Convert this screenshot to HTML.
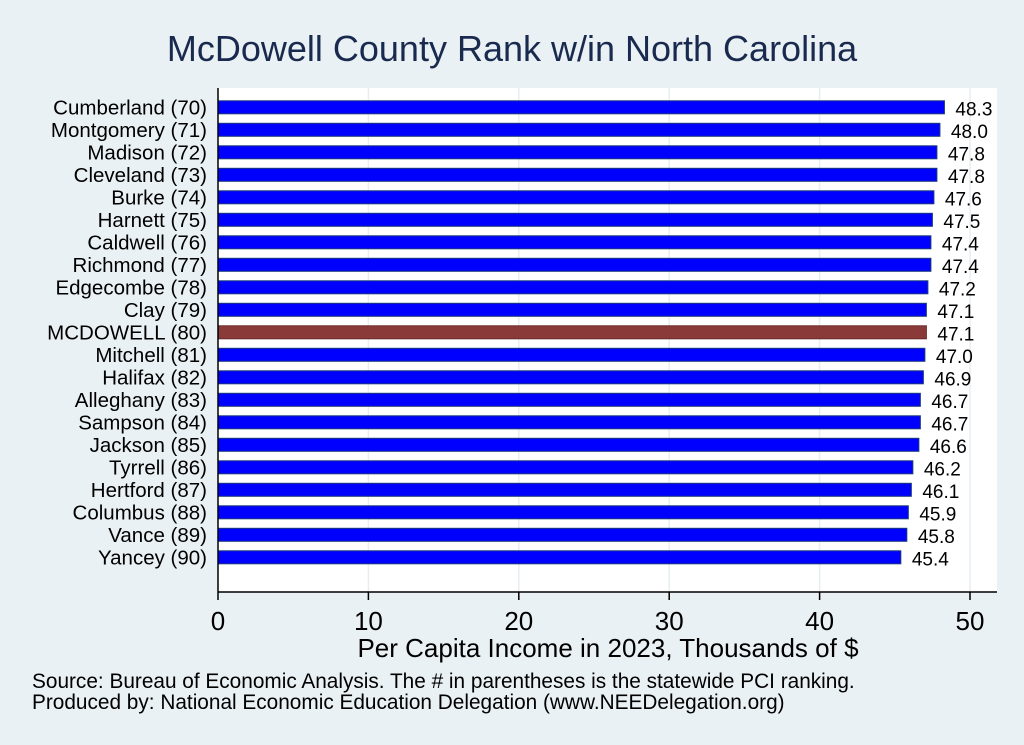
<!DOCTYPE html>
<html><head><meta charset="utf-8"><style>
body{margin:0;background:#eaf1f4;}
svg{display:block;font-family:"Liberation Sans",Arial,sans-serif;}
</style></head><body>
<svg id="chart" width="1024" height="745">
<rect x="0" y="0" width="1024" height="745" fill="#eaf1f4"/>
<text x="512" y="61" text-anchor="middle" font-size="36" fill="#1a2a4f">McDowell County Rank w/in North Carolina</text>
<rect x="218" y="88" width="779" height="504" fill="#fff"/>
<g id="grid"></g><g id="bars"></g><g id="axis"></g>
<text x="608" y="657" text-anchor="middle" font-size="26" fill="#000">Per Capita Income in 2023, Thousands of $</text>
<text x="32" y="688" font-size="20.8" fill="#000">Source: Bureau of Economic Analysis. The # in parentheses is the statewide PCI ranking.</text>
<text x="32" y="709" font-size="20.8" fill="#000">Produced by: National Economic Education Delegation (www.NEEDelegation.org)</text>
</svg>
<script>
const categories=["Cumberland (70)","Montgomery (71)","Madison (72)","Cleveland (73)","Burke (74)","Harnett (75)","Caldwell (76)","Richmond (77)","Edgecombe (78)","Clay (79)","MCDOWELL (80)","Mitchell (81)","Halifax (82)","Alleghany (83)","Sampson (84)","Jackson (85)","Tyrrell (86)","Hertford (87)","Columbus (88)","Vance (89)","Yancey (90)"];
const values=[48.3,48.0,47.8,47.8,47.6,47.5,47.4,47.4,47.2,47.1,47.1,47.0,46.9,46.7,46.7,46.6,46.2,46.1,45.9,45.8,45.4];
const highlight="MCDOWELL (80)";
const ticks=[0,10,20,30,40,50];
const NS="http://www.w3.org/2000/svg";
const x=v=>218+v*15.04;
const y=i=>107.3+i*22.5;
function mk(t,a,p){const e=document.createElementNS(NS,t);for(const k in a)e.setAttribute(k,a[k]);p.appendChild(e);return e;}
const G=document.getElementById('grid'),B=document.getElementById('bars'),A=document.getElementById('axis');
ticks.forEach(t=>{
 if(t>0){const g=mk('line',{x1:x(t),x2:x(t),y1:88,y2:592,stroke:'#e6eef2','stroke-width':1.5},G);
 
 }
 const tk=mk('line',{x1:x(t),x2:x(t),y1:592,y2:600,stroke:'#000','stroke-width':1.5},A);
 
 
 const tl=mk('text',{x:x(t),y:630,'text-anchor':'middle','font-size':26},A);tl.textContent=t;
 
 
});
categories.forEach((c,i)=>{
 const hl=c===highlight;
 const r=mk('rect',{x:x(0),y:y(i)-6.5,width:x(values[i])-x(0),height:13,fill:hl?'#8b3a3a':'#0000ff',stroke:hl?'#6b2a2a':'#1a3a7a','stroke-width':1},B);
 
 
 const l=mk('text',{x:207,y:y(i)+7,'text-anchor':'end','font-size':20.5},B);l.textContent=c;
 
 
 const v=mk('text',{x:x(values[i])+11,y:y(i)+8,'font-size':19},B);v.textContent=values[i].toFixed(1);
 
 
});
const ax=mk('line',{x1:218,x2:997,y1:592,y2:592,stroke:'#000','stroke-width':1.5},A);


const ay=mk('line',{x1:218,x2:218,y1:88,y2:592,stroke:'#000','stroke-width':1.5},A);


</script>
</body></html>
